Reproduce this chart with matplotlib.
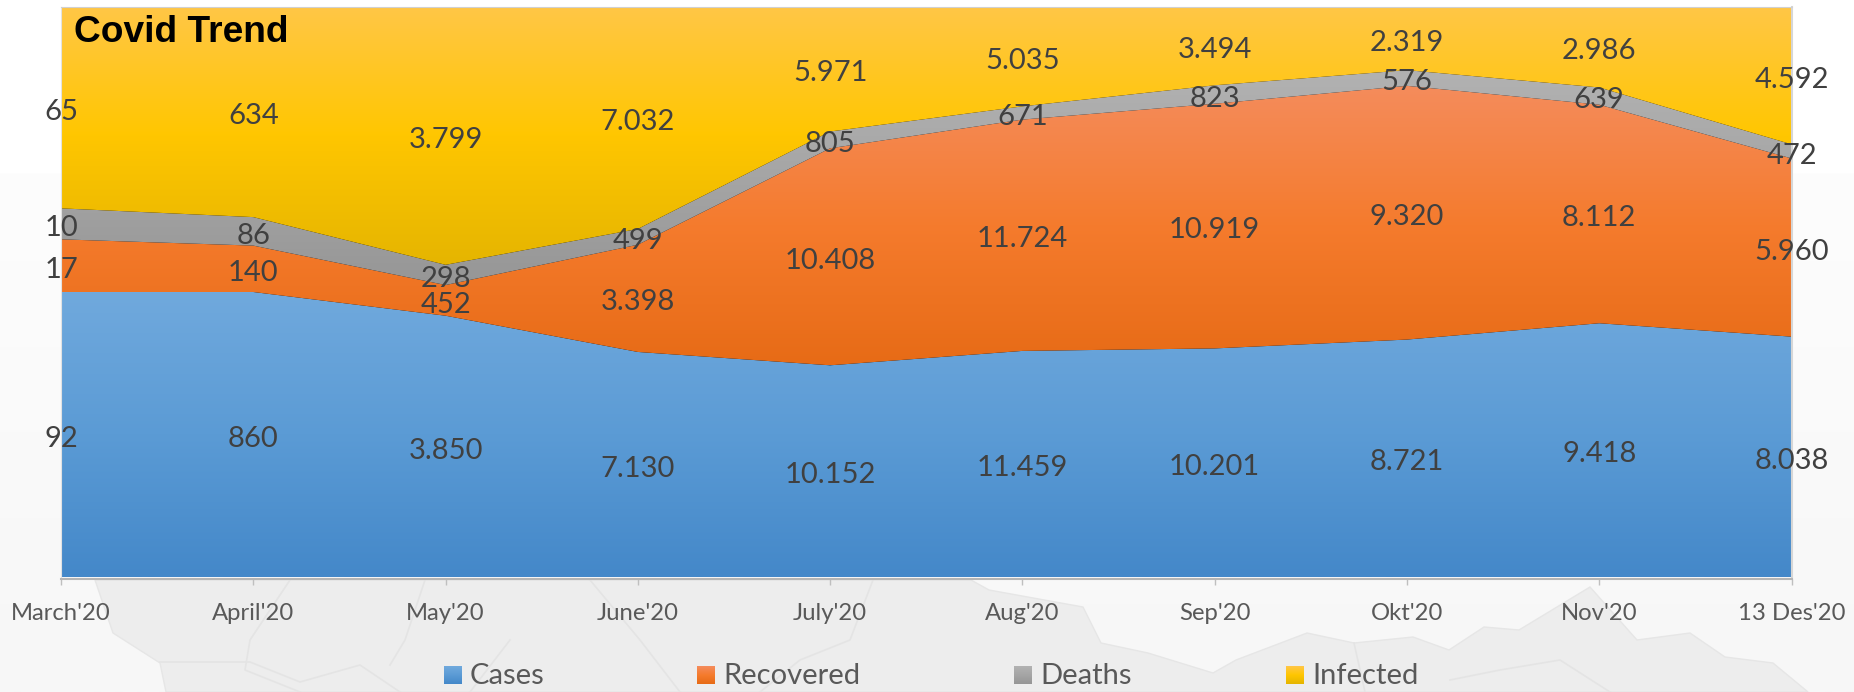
import numpy as np
import matplotlib
matplotlib.use("Agg")
import matplotlib.pyplot as plt
from matplotlib.colors import LinearSegmentedColormap
from matplotlib.patches import Polygon

months = ["March'20", "April'20", "May'20", "June'20", "July'20", "Aug'20", "Sep'20", "Okt'20", "Nov'20", "13 Des'20"]
cases = [92, 860, 3850, 7130, 10152, 11459, 10201, 8721, 9418, 8038]
recovered = [17, 140, 452, 3398, 10408, 11724, 10919, 9320, 8112, 5960]
deaths = [10, 86, 298, 499, 805, 671, 823, 576, 639, 472]
infected = [65, 634, 3799, 7032, 5971, 5035, 3494, 2319, 2986, 4592]

names = ["Cases", "Recovered", "Deaths", "Infected"]
grads = [["#70a9dd", "#5b9bd5", "#4488c9"],
         ["#f48c5c", "#f57b2d", "#e76b16"],
         ["#b2b2b2", "#a5a5a5", "#969696"],
         ["#ffc746", "#ffc600", "#e5b500"]]

W, H = 1854, 692
plt.rcParams["font.family"] = ["Lato", "DejaVu Sans"]

fig = plt.figure(figsize=(W / 100, H / 100), dpi=100, facecolor="white")

# background, faded map at the bottom (pixel coordinates)
bg = fig.add_axes([0, 0, 1, 1], zorder=0)
fade = LinearSegmentedColormap.from_list("fade", ["#fdfdfd", "#f7f7f7"])
bg.imshow(np.linspace(0, 1, 200).reshape(-1, 1), cmap=fade, extent=[0, W, H, 173], aspect="auto", zorder=0)
map_edge = [(95, 580), (113, 633), (160, 663), (166, 692), (1808, 692), (1773, 663), (1725, 657), (1690, 633),
            (1637, 640), (1590, 587), (1519, 630), (1484, 627), (1449, 650), (1413, 637), (1354, 643), (1307, 633),
            (1236, 660), (1213, 673), (1148, 653), (1101, 643), (1083, 607), (989, 590), (971, 580)]
bg.add_patch(Polygon(map_edge, closed=True, fc="#ededed", ec="#e6e6e6", lw=1, zorder=1))
borders = [[(290, 580), (250, 640), (245, 670), (300, 692)],
           [(425, 580), (405, 640), (390, 665)],
           [(590, 580), (640, 640), (680, 692)],
           [(873, 580), (850, 640), (800, 660), (760, 692)],
           [(160, 662), (250, 662), (300, 682), (360, 665), (400, 692)],
           [(510, 640), (470, 692)],
           [(1354, 643), (1365, 692)],
           [(1450, 680), (1500, 670), (1560, 660), (1610, 692)]]
for line in borders:
    xs, ys = zip(*line)
    bg.plot(xs, ys, color="#e4e4e4", lw=1.2, zorder=2)

# legend swatches and text
swatch_x = [444, 697, 1014, 1286]
for name, g, sx in zip(names, grads, swatch_x):
    cm = LinearSegmentedColormap.from_list(name, g)
    bg.imshow(np.linspace(0, 1, 30).reshape(-1, 1), cmap=cm, extent=[sx, sx + 18, 684, 666], aspect="auto", zorder=3)
    bg.text(sx + 26, 676, name, fontsize=21, color="#595959", va="center", ha="left", zorder=4)
bg.set_xlim(0, W)
bg.set_ylim(H, 0)
bg.axis("off")

# 100% stacked area
left, right, top, bottom = 61, 1791.5, 7, 577
ax = fig.add_axes([left / W, 1 - bottom / H, (right - left) / W, (bottom - top) / H], zorder=1)
ax.patch.set_alpha(0)

x = np.arange(len(months))
values = np.array([cases, recovered, deaths, infected], dtype=float)
shares = values / values.sum(axis=0)

polys = ax.stackplot(x, shares, colors=["none"] * 4)
for poly, g, name in zip(polys, grads, names):
    path = poly.get_paths()[0]
    box = path.get_extents()
    cm = LinearSegmentedColormap.from_list(name, g)
    im = ax.imshow(np.linspace(0, 1, 256).reshape(-1, 1), cmap=cm, aspect="auto",
                   extent=[0, len(months) - 1, box.y0, box.y1], zorder=2)
    im.set_clip_path(path, ax.transData)

ax.set_xlim(0, len(months) - 1)
ax.set_ylim(0, 1)

# data labels sit in the middle of each band
mids = shares.cumsum(axis=0) - shares / 2
for row, mid in zip(values, mids):
    for i in x:
        label = f"{int(row[i]):,}".replace(",", ".")
        ax.annotate(label, (i, mid[i]), xytext=(0, -3), textcoords="offset points", fontsize=21,
                    color="#404040", ha="center", va="center", zorder=5, annotation_clip=False)

ax.set_xticks(x)
ax.set_xticklabels(months)
ax.set_yticks([])
ax.tick_params(axis="x", length=4.5, width=1, color="#bfbfbf", pad=13, labelsize=17.2, labelcolor="#595959")
ax.spines["bottom"].set_position(("outward", 1.5))
ax.spines["bottom"].set_color("#b5b5b5")
ax.spines["bottom"].set_linewidth(1.5)
ax.spines["left"].set_color("#e2e2e2")
ax.spines["right"].set_color("#d6d6d6")
ax.spines["right"].set_linewidth(1.5)
ax.spines["top"].set_color("#d0d0d0")

fig.text(74 / W, 1 - 32 / H, "Covid Trend", family="Liberation Sans", fontweight="bold", fontsize=26.7,
         color="black", ha="left", va="center", zorder=6)

fig.savefig("out.png", dpi=100)
